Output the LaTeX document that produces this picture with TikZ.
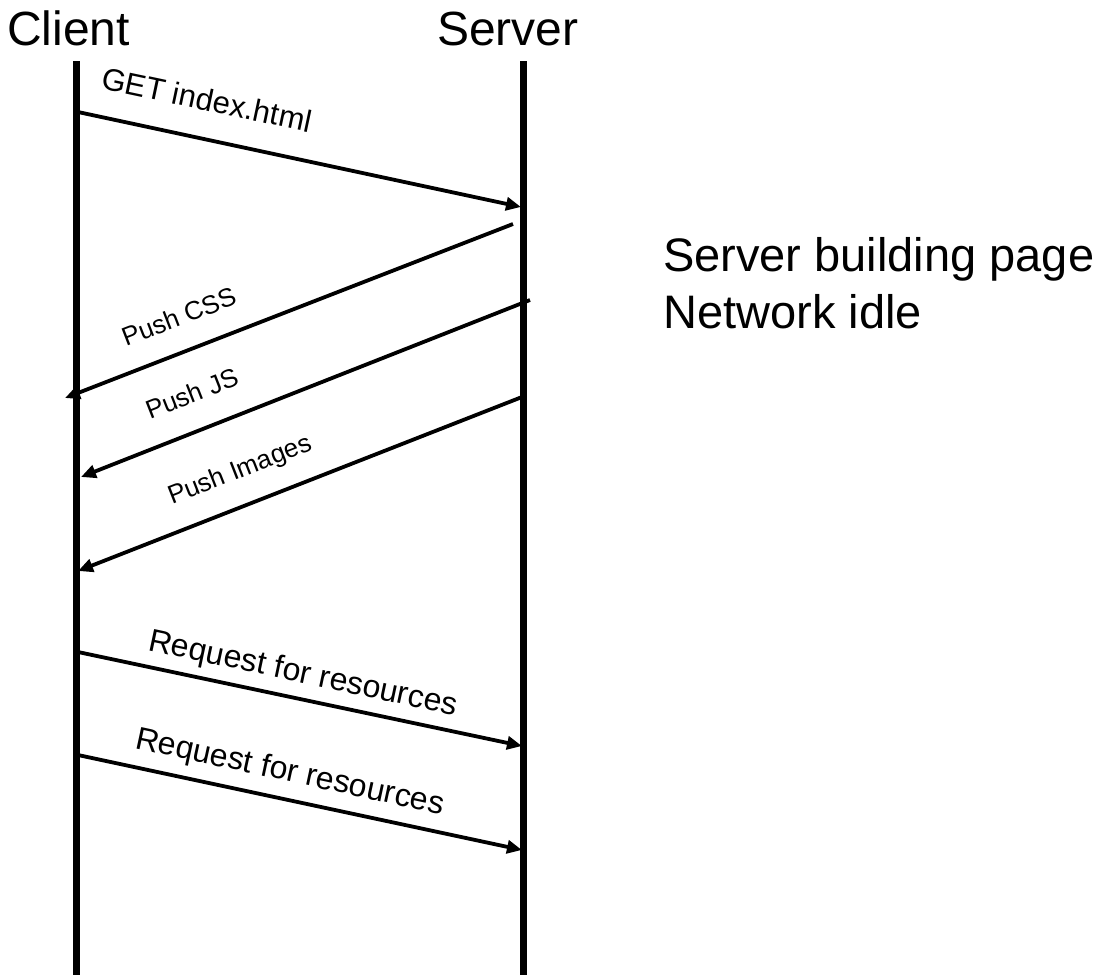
\documentclass[tikz,border=0pt]{standalone}
\usepackage{fontspec}
\setmainfont{Liberation Sans}
\usetikzlibrary{arrows.meta}
\begin{document}
\begin{tikzpicture}[x=1pt,y=-1pt,
  lifeline/.style={line width=7pt},
  msg/.style={line width=3.8pt,-{Triangle[length=15pt,width=13pt]}},
  title/.style={anchor=base west,inner sep=0pt,font=\fontsize{48}{56}\selectfont},
  biglbl/.style={anchor=base west,inner sep=0pt,font=\fontsize{31}{36}\selectfont},
  reqlbl/.style={anchor=base west,inner sep=0pt,font=\fontsize{32}{38}\selectfont},
  smalllbl/.style={anchor=base west,inner sep=0pt,font=\fontsize{26}{30}\selectfont},
  note/.style={anchor=base west,inner sep=0pt,font=\fontsize{47}{57}\selectfont}]
\useasboundingbox (0,0) rectangle (1105,975);
% titles
\node[title] (client) at (7,45) {Client};
\node[title] (server) at (437,45) {Server};
% lifelines
\coordinate (ctop) at (76,61);
\coordinate (cbot) at (76,975);
\coordinate (stop) at (523,61);
\coordinate (sbot) at (523,975);
\draw[lifeline] (ctop) -- (cbot);
\draw[lifeline] (stop) -- (sbot);
% message end points
\coordinate (g1) at (78,112);   \coordinate (g2) at (521,207);
\coordinate (c1) at (513,224);  \coordinate (c2) at (65,398);
\coordinate (j1) at (530,300);  \coordinate (j2) at (81,477);
\coordinate (i1) at (522,397);  \coordinate (i2) at (78,571);
\coordinate (r1) at (78,652);   \coordinate (r2) at (522,746);
\coordinate (q1) at (78,755);   \coordinate (q2) at (522,850);
% messages
\draw[msg] (g1) -- (g2);
\draw[msg] (c1) -- (c2);
\draw[msg] (j1) -- (j2);
\draw[msg] (i1) -- (i2);
\draw[msg] (r1) -- (r2);
\draw[msg] (q1) -- (q2);
% labels
\node[biglbl,rotate=-12] (getlbl) at (100,88) {GET index.html};
\node[smalllbl,rotate=21.2] (csslbl) at (126,347) {Push CSS};
\node[smalllbl,rotate=21.4] (jslbl) at (150,420) {Push JS};
\node[smalllbl,rotate=21.4] (imglbl) at (172,505) {Push Images};
\node[reqlbl,rotate=-12] (req1) at (147,650) {Request for resources};
\node[reqlbl,rotate=-12.2] (req2) at (134,748) {Request for resources};
% note
\node[note] (note1) at (663,271) {Server building page};
\node[note] (note2) at (663,328) {Network idle};
\end{tikzpicture}
\end{document}
